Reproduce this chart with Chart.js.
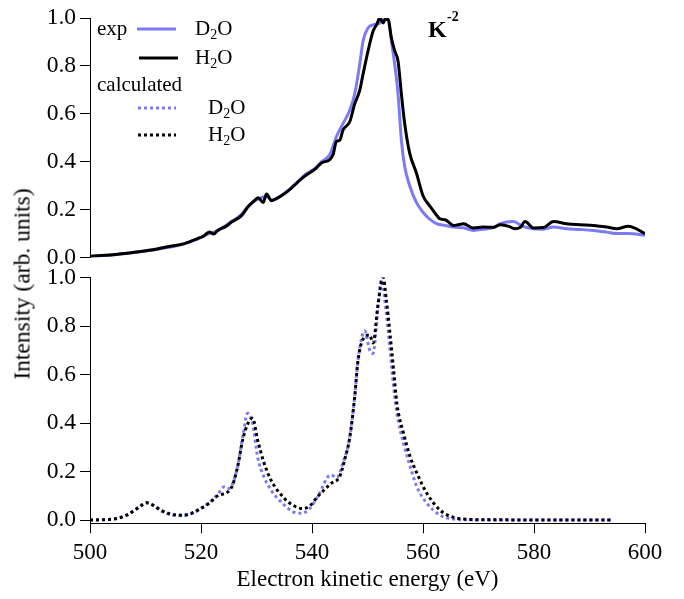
<!DOCTYPE html>
<html>
<head>
<meta charset="utf-8">
<script src="https://cdn.jsdelivr.net/npm/chart.js@4/dist/chart.umd.min.js"></script>
<style>
  body { margin: 0; background: #fff; width: 684px; height: 599px; position: relative; overflow: hidden; font-family: 'Liberation Serif', serif; }
  #topChart { position: absolute; left: 0; top: 0; }
  #botChart { position: absolute; left: 0; top: 250px; }
  #yTitle { position: absolute; left: 22px; top: 284px; transform: translate(-50%, -50%) rotate(-90deg); font-size: 23.5px; white-space: nowrap; color: #000; }
</style>
</head>
<body>
<canvas id="topChart" width="684" height="290" style="width:684px;height:290px"></canvas>
<canvas id="botChart" width="684" height="349" style="width:684px;height:349px"></canvas>
<div id="yTitle">Intensity (arb. units)</div>
<script>
// experiment, H2O
const expEnergyH2O = [500, 502, 505, 508, 511, 514, 517, 519.4, 520.5, 521.5, 522.3, 523, 524.5, 525.5, 527.3, 528.4, 529.5, 530.3, 531.2, 531.8, 532.7, 533.5, 534.5, 536.3, 537.2, 538.7, 540.5, 541.7, 543.2, 543.8, 544.4, 545.0, 545.6, 546.8, 547.7, 548.6, 549.2, 550.1, 551.0, 551.7, 552.2, 552.8, 553.2, 553.7, 554.3, 554.9, 555.5, 556.1, 556.7, 557.6, 558.8, 560.0, 561.2, 562.5, 563.1, 564, 565.5, 566.5, 567.3, 569.1, 570.9, 572.7, 573.9, 575.5, 576.5, 577.5, 578.4, 579.9, 581.7, 583.5, 585.9, 588.3, 590.7, 593.1, 594.9, 597, 600];
const expH2O = [0.005, 0.008, 0.014, 0.022, 0.031, 0.045, 0.058, 0.079, 0.09, 0.107, 0.098, 0.113, 0.13, 0.148, 0.175, 0.21, 0.235, 0.25, 0.23, 0.265, 0.237, 0.245, 0.258, 0.29, 0.31, 0.34, 0.368, 0.395, 0.409, 0.43, 0.485, 0.49, 0.533, 0.567, 0.642, 0.698, 0.766, 0.863, 0.945, 0.975, 1.0, 0.98, 0.995, 0.995, 0.918, 0.863, 0.821, 0.684, 0.56, 0.436, 0.354, 0.258, 0.216, 0.175, 0.161, 0.158, 0.134, 0.138, 0.141, 0.123, 0.127, 0.126, 0.137, 0.13, 0.12, 0.125, 0.15, 0.123, 0.125, 0.15, 0.141, 0.137, 0.134, 0.127, 0.12, 0.131, 0.10];

// experiment, D2O
const expEnergyD2O = [500, 505, 511, 517, 519.4, 521.5, 523, 525.5, 527.3, 528.4, 530.3, 531.8, 532.7, 534.5, 536.3, 538.7, 540.5, 541.7, 543.2, 544.4, 545.6, 546.8, 547.7, 548.6, 549.2, 550.1, 551.0, 552.2, 552.8, 553.7, 554.3, 554.9, 555.5, 556.1, 556.7, 557.6, 558.8, 560.0, 561.2, 562.5, 564, 565.5, 567.3, 569.1, 570.9, 572.7, 573.9, 576.3, 578, 579.9, 581.7, 583.5, 585.9, 588.3, 590.7, 593.1, 594.9, 597, 600];
const expD2O = [0.004, 0.013, 0.03, 0.057, 0.078, 0.1, 0.112, 0.15, 0.18, 0.212, 0.245, 0.255, 0.24, 0.26, 0.292, 0.345, 0.372, 0.4, 0.43, 0.505, 0.56, 0.615, 0.684, 0.807, 0.904, 0.959, 0.972, 0.979, 0.993, 0.995, 0.904, 0.807, 0.684, 0.49, 0.38, 0.30, 0.23, 0.189, 0.16, 0.141, 0.134, 0.127, 0.124, 0.113, 0.118, 0.125, 0.141, 0.15, 0.13, 0.12, 0.118, 0.127, 0.12, 0.117, 0.113, 0.106, 0.1, 0.1, 0.093];

// calculated, H2O
const calcEnergyH2O = [500, 503, 505, 507, 509, 510.1, 511.5, 512.8, 514.5, 516.5, 518, 520, 521.5, 523, 525.4, 526.6, 527.5, 528.5, 529.3, 530.2, 531.3, 532.6, 535, 536.5, 538.0, 539.5, 541, 543.4, 545, 545.9, 546.8, 547.7, 548.3, 549.5, 550.4, 551.0, 551.9, 552.8, 553.4, 554, 554.7, 555.3, 556.5, 557.7, 558.9, 560.7, 563.1, 565.5, 568, 572, 594];
const calcH2O = [0.0, 0.002, 0.007, 0.025, 0.055, 0.071, 0.06, 0.04, 0.025, 0.02, 0.025, 0.048, 0.07, 0.10, 0.13, 0.22, 0.33, 0.40, 0.42, 0.33, 0.24, 0.165, 0.09, 0.062, 0.048, 0.056, 0.096, 0.15, 0.18, 0.25, 0.34, 0.51, 0.66, 0.756, 0.763, 0.73, 0.89, 1.0, 0.907, 0.78, 0.62, 0.48, 0.357, 0.26, 0.193, 0.11, 0.04, 0.011, 0.003, 0.001, 0.0];

// calculated, D2O
const calcEnergyD2O = [500, 503, 505, 507, 509, 510.3, 511.5, 512.8, 514.5, 516.5, 518, 520, 521.5, 523, 524.2, 525, 526.6, 527.5, 528.4, 529.3, 530.2, 531.3, 532.6, 535, 536.5, 538.0, 539.5, 541, 543.4, 544.5, 545.5, 546.8, 547.7, 548.3, 549.5, 550.4, 551.0, 551.9, 552.5, 553.4, 554, 554.7, 555.3, 556.5, 557.7, 558.9, 560.7, 563.1, 565.5, 568, 594];
const calcD2O = [0.0, 0.002, 0.007, 0.025, 0.058, 0.073, 0.058, 0.038, 0.022, 0.018, 0.024, 0.048, 0.072, 0.105, 0.137, 0.13, 0.22, 0.34, 0.44, 0.40, 0.26, 0.18, 0.124, 0.062, 0.035, 0.028, 0.045, 0.096, 0.186, 0.175, 0.23, 0.34, 0.51, 0.66, 0.78, 0.70, 0.687, 0.88, 0.99, 0.85, 0.715, 0.55, 0.44, 0.316, 0.22, 0.137, 0.069, 0.02, 0.004, 0.001, 0.0];

const yTicks = [0, 0.2, 0.4, 0.6, 0.8, 1.0];

const BLUE = '#7b7bf6';
const FONT = "'Liberation Serif', 'Times New Roman', serif";

function toPoints(xs, ys) {
    return xs.map((x, i) => ({ x: x, y: ys[i] }));
}

function yScale(min) {
    return {
        type: 'linear',
        min: min,
        max: 1.0,
        afterBuildTicks: s => { s.ticks = yTicks.map(v => ({ value: v })); },
        afterFit: s => { s.width = 90; },
        ticks: {
            color: '#000',
            padding: 4,
            font: { family: FONT, size: 23.5 },
            callback: v => v.toFixed(1)
        },
        grid: { drawOnChartArea: false, color: '#000', tickLength: 10, tickWidth: 1 },
        border: { color: '#000', width: 1 }
    };
}

// D₂O / H₂O with a real subscript
function drawFormula(ctx, x, y, main, sub, tail) {
    ctx.font = '21px ' + FONT;
    ctx.textBaseline = 'middle';
    ctx.textAlign = 'left';
    ctx.fillText(main, x, y);
    let w = ctx.measureText(main).width;
    ctx.font = '14px ' + FONT;
    ctx.fillText(sub, x + w, y + 6);
    w += ctx.measureText(sub).width;
    ctx.font = '21px ' + FONT;
    ctx.fillText(tail, x + w, y);
}

const legendPlugin = {
    id: 'legendPlugin',
    afterDraw(chart) {
        const ctx = chart.ctx;
        ctx.save();
        ctx.fillStyle = '#000';
        ctx.font = '21px ' + FONT;
        ctx.textBaseline = 'middle';
        ctx.fillText('exp', 97, 29);
        ctx.fillText('calculated', 97, 85);

        const rows = [
            { y: 29, x0: 137, x1: 176, color: BLUE, dash: [], tx: 195, sub: 'D' },
            { y: 58, x0: 139, x1: 178, color: '#000', dash: [], tx: 195, sub: 'H' },
            { y: 108, x0: 138, x1: 176, color: BLUE, dash: [3, 3], tx: 208, sub: 'D' },
            { y: 135, x0: 138, x1: 176, color: '#000', dash: [3, 3], tx: 208, sub: 'H' }
        ];
        rows.forEach(r => {
            ctx.beginPath();
            ctx.setLineDash(r.dash);
            ctx.lineWidth = 3;
            ctx.strokeStyle = r.color;
            ctx.moveTo(r.x0, r.y);
            ctx.lineTo(r.x1, r.y);
            ctx.stroke();
            ctx.setLineDash([]);
            drawFormula(ctx, r.tx, r.y, r.sub, '2', 'O');
        });

        // K^-2 label
        ctx.font = 'bold 24px ' + FONT;
        ctx.fillText('K', 428, 31);
        ctx.font = 'bold 14px ' + FONT;
        ctx.fillText('-2', 447, 17);
        ctx.restore();
    }
};

const xHidden = { type: 'linear', min: 500, max: 600, display: false };

new Chart(document.getElementById('topChart'), {
    type: 'line',
    data: {
        datasets: [
            { label: 'H2O exp', data: toPoints(expEnergyH2O, expH2O), borderColor: '#000', borderWidth: 3 },
            { label: 'D2O exp', data: toPoints(expEnergyD2O, expD2O), borderColor: BLUE, borderWidth: 3 }
        ]
    },
    options: {
        responsive: false,
        animation: false,
        layout: { padding: { left: 0, right: 39, top: 15, bottom: 32.5 } },
        elements: { point: { radius: 0 }, line: { cubicInterpolationMode: 'monotone' } },
        plugins: { legend: { display: false }, tooltip: { enabled: false } },
        scales: { x: xHidden, y: yScale(0) }
    },
    plugins: [legendPlugin]
});

new Chart(document.getElementById('botChart'), {
    type: 'line',
    data: {
        datasets: [
            { label: 'H2O calc', data: toPoints(calcEnergyH2O, calcH2O), borderColor: '#000', borderWidth: 3, borderDash: [3, 3] },
            { label: 'D2O calc', data: toPoints(calcEnergyD2O, calcD2O), borderColor: BLUE, borderWidth: 3, borderDash: [3, 3] }
        ]
    },
    options: {
        responsive: false,
        animation: false,
        layout: { padding: { left: 0, right: 39, top: 27.5, bottom: 0 } },
        elements: { point: { radius: 0 }, line: { cubicInterpolationMode: 'monotone' } },
        plugins: { legend: { display: false }, tooltip: { enabled: false } },
        scales: {
            x: {
                type: 'linear',
                min: 500,
                max: 600,
                afterFit: s => { s.height = 75.7; },
                ticks: {
                    stepSize: 20,
                    color: '#000',
                    padding: 6,
                    font: { family: FONT, size: 23 }
                },
                grid: { drawOnChartArea: false, color: '#000', tickLength: 10, tickWidth: 1 },
                border: { color: '#000', width: 1 },
                title: {
                    display: true,
                    text: 'Electron kinetic energy (eV)',
                    color: '#000',
                    font: { family: FONT, size: 23 },
                    padding: { top: 0, bottom: 5 }
                }
            },
            y: yScale(-0.0135)
        }
    }
});
</script>
</body>
</html>
